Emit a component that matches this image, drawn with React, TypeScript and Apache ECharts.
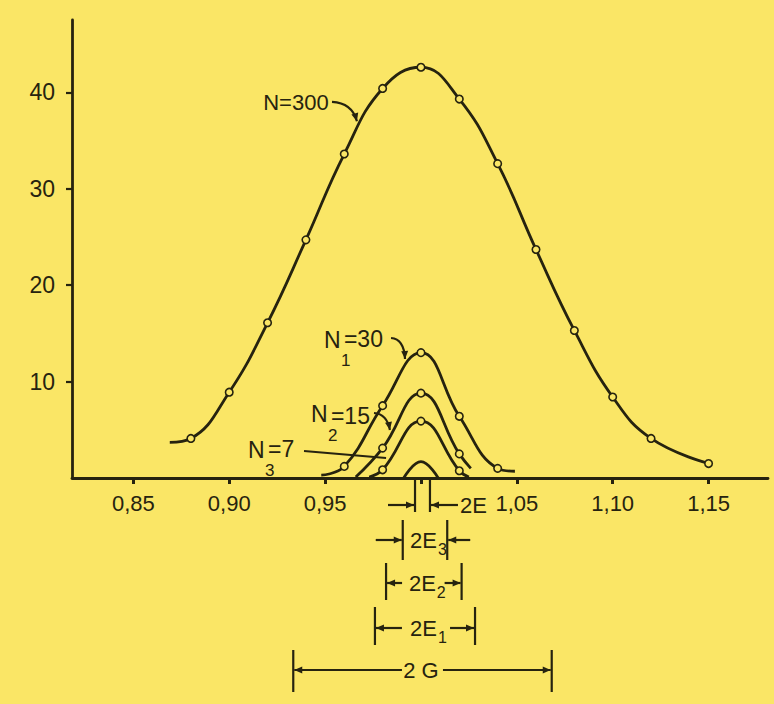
import React, { useEffect, useRef } from "react";
import * as echarts from "echarts";

// ---- axes ----
const X_MIN = 0.818;
const X_MAX = 1.181;
const Y_MAX = 47.5;
const X_TICKS = [0.85, 0.9, 0.95, 1.0, 1.05, 1.1, 1.15];
const X_LABELS = [0.85, 0.9, 0.95, 1.05, 1.1, 1.15];
const Y_TICKS = [10, 20, 30, 40];

// ---- curves (x, frequency, 1 = measured point drawn as circle) ----
const N300_X = [0.869, 0.88, 0.9, 0.92, 0.94, 0.96, 0.98, 1.0, 1.02, 1.04, 1.06, 1.08, 1.1, 1.12, 1.15];
const N300_Y = [3.7, 4.1, 8.9, 16.1, 24.7, 33.6, 40.4, 42.6, 39.3, 32.6, 23.7, 15.3, 8.4, 4.1, 1.5];
const N300_PT = [0, 1, 1, 1, 1, 1, 1, 1, 1, 1, 1, 1, 1, 1, 1];

const N1_X = [0.948, 0.96, 0.98, 1.0, 1.02, 1.04, 1.049];
const N1_Y = [0.3, 1.2, 7.5, 13.0, 6.4, 1.0, 0.7];
const N1_PT = [0, 1, 1, 1, 1, 1, 0];

const N2_X = [0.966, 0.98, 1.0, 1.02, 1.026];
const N2_Y = [0.1, 3.1, 8.8, 2.5, 1.0];
const N2_PT = [0, 1, 1, 1, 0];

const N3_X = [0.973, 0.98, 1.0, 1.02, 1.025];
const N3_Y = [0.1, 0.85, 5.9, 0.75, 0.1];
const N3_PT = [0, 1, 1, 1, 0];

const N4_X = [0.991, 1.0, 1.009];
const N4_Y = [0, 1.7, 0];
const N4_PT = [0, 0, 0];

// ---- curve labels (data coordinates) ----
const LBL_N300 = [0.9348, 38.94];
const ARR_N300 = [[0.9536, 39.0], [0.964, 38.9], [0.9666, 37.0]];
const LBL_N1 = [0.9494, 14.31];
const ARR_N1 = [[0.9844, 14.52], [0.9912, 14.42], [0.9917, 12.34]];
const LBL_N2 = [0.9426, 6.64];
const ARR_N2 = [[0.9755, 6.74], [0.9823, 6.64], [0.9838, 4.98]];
const LBL_N3 = [0.9098, 2.9];
const LINE_N3 = [[0.939, 2.8], [0.9818, 2.07]];

// ---- interval brackets below the axis (x ranges) ----
const SPAN_E = [0.9969, 1.0047];
const SPAN_E3 = [0.9905, 1.0137];
const SPAN_E2 = [0.9818, 1.0212];
const SPAN_E1 = [0.976, 1.0282];
const SPAN_G = [0.9334, 1.0682];

const BG = "#FAE666";
const INK = "#26230f";
const FONT = "'Liberation Sans', Arial, sans-serif";

function toData(xs: number[], ys: number[], pts: number[]) {
  return xs.map((x, i) => ({
    value: [x, ys[i]],
    symbol: pts[i] ? "circle" : "none",
  }));
}

function curve(name: string, xs: number[], ys: number[], pts: number[]) {
  return {
    name,
    type: "line",
    smooth: 0.45,
    data: toData(xs, ys, pts),
    symbolSize: 7.5,
    lineStyle: { color: INK, width: 2.8 },
    itemStyle: { color: BG, borderColor: INK, borderWidth: 1.6 },
    z: 3,
  };
}

export default function App() {
  const ref = useRef<HTMLDivElement>(null);

  useEffect(() => {
    document.body.style.margin = "0";
    const el = ref.current!;
    const chart = echarts.init(el, null, { renderer: "svg" });

    const option: any = {
      animation: false,
      backgroundColor: BG,
      grid: { left: 72, right: 6, top: 20, bottom: 226, containLabel: false },
      xAxis: {
        type: "value",
        min: X_MIN,
        max: X_MAX,
        axisLine: { show: true, lineStyle: { color: INK, width: 2.8 } },
        axisTick: {
          show: true,
          customValues: X_TICKS,
          length: 6,
          lineStyle: { color: INK, width: 3 },
        },
        axisLabel: {
          show: true,
          customValues: X_LABELS,
          formatter: (v: number) => v.toFixed(2).replace(".", ","),
          color: INK,
          fontSize: 22,
          fontFamily: FONT,
          margin: 14,
        },
        splitLine: { show: false },
      },
      yAxis: {
        type: "value",
        min: 0,
        max: Y_MAX,
        axisLine: { show: true, lineStyle: { color: INK, width: 2.8 } },
        axisTick: {
          show: true,
          customValues: Y_TICKS,
          length: 6,
          lineStyle: { color: INK, width: 2.2 },
        },
        axisLabel: {
          show: true,
          customValues: Y_TICKS,
          color: INK,
          fontSize: 23,
          fontFamily: FONT,
          margin: 17,
        },
        splitLine: { show: false },
      },
      series: [
        curve("N=300", N300_X, N300_Y, N300_PT),
        curve("N1=30", N1_X, N1_Y, N1_PT),
        curve("N2=15", N2_X, N2_Y, N2_PT),
        curve("N3=7", N3_X, N3_Y, N3_PT),
        curve("N4", N4_X, N4_Y, N4_PT),
      ],
    };
    chart.setOption(option);

    const P = (p: number[]) => chart.convertToPixel({ gridIndex: 0 }, p) as number[];
    const y0 = P([1, 0])[1];
    const X = (v: number) => P([v, 0])[0];
    const g: any[] = [];

    const text = (t: string, x: number, y: number, size: number, align = "left") =>
      g.push({
        type: "text",
        x,
        y,
        z: 10,
        style: { text: t, fill: INK, fontSize: size, fontFamily: FONT, align, verticalAlign: "middle" },
      });
    const line = (x1: number, y1: number, x2: number, y2: number, w = 2) =>
      g.push({ type: "line", z: 10, shape: { x1, y1, x2, y2 }, style: { stroke: INK, lineWidth: w } });
    const head = (tx: number, ty: number, fx: number, fy: number, len = 8, w = 3.5) => {
      const dx = tx - fx;
      const dy = ty - fy;
      const d = Math.hypot(dx, dy) || 1;
      const ux = dx / d;
      const uy = dy / d;
      const bx = tx - ux * len;
      const by = ty - uy * len;
      g.push({
        type: "polygon",
        z: 10,
        shape: { points: [[tx, ty], [bx - uy * w, by + ux * w], [bx + uy * w, by - ux * w]] },
        style: { fill: INK },
      });
    };
    const arrow = (x1: number, y1: number, x2: number, y2: number) => {
      line(x1, y1, x2, y2, 2.2);
      head(x2, y2, x1, y1);
    };
    const curvedArrow = (pts: number[][]) => {
      const [a, c, b] = pts.map(P);
      g.push({
        type: "bezierCurve",
        z: 10,
        shape: { x1: a[0], y1: a[1], cpx1: c[0], cpy1: c[1], x2: b[0], y2: b[1] },
        style: { stroke: INK, lineWidth: 2.2, fill: "none" },
      });
      head(b[0], b[1], c[0], c[1], 8, 3.5);
    };

    // N=300
    const l300 = P(LBL_N300);
    text("N=300", l300[0], l300[1], 22, "center");
    curvedArrow(ARR_N300);

    // N1 = 30
    const l1 = P(LBL_N1);
    text("N", l1[0], l1[1], 23);
    text("1", l1[0] + 17, l1[1] + 20, 17);
    text("=30", l1[0] + 20, l1[1] - 1, 23);
    curvedArrow(ARR_N1);

    // N2 = 15
    const l2 = P(LBL_N2);
    text("N", l2[0], l2[1], 23);
    text("2", l2[0] + 17, l2[1] + 22, 17);
    text("=15", l2[0] + 20, l2[1] + 2, 23);
    curvedArrow(ARR_N2);

    // N3 = 7
    const l3 = P(LBL_N3);
    text("N", l3[0], l3[1], 23);
    text("3", l3[0] + 17, l3[1] + 20, 17);
    text("=7", l3[0] + 20, l3[1] - 1, 23);
    const a3 = P(LINE_N3[0]);
    const b3 = P(LINE_N3[1]);
    line(a3[0], a3[1], b3[0], b3[1], 2);

    // 2E bracket
    {
      const xl = X(SPAN_E[0]);
      const xr = X(SPAN_E[1]);
      line(xl, y0, xl, y0 + 34, 2.2);
      line(xr, y0, xr, y0 + 34, 2.2);
      arrow(xl - 27, y0 + 27, xl - 1, y0 + 27);
      arrow(xr + 28, y0 + 27, xr + 1, y0 + 27);
      text("2E", xr + 30, y0 + 27, 22);
    }
    const subLabel = (mid: number, y: number, sub: string) => {
      text("2E", mid + 12, y, 22, "right");
      if (sub) text(sub, mid + 13, y + 9, 16);
    };
    // 2E3 (arrows outside pointing in)
    {
      const xl = X(SPAN_E3[0]);
      const xr = X(SPAN_E3[1]);
      line(xl, y0 + 42, xl, y0 + 82, 2.2);
      line(xr, y0 + 42, xr, y0 + 82, 2.2);
      arrow(xl - 27, y0 + 62, xl - 1, y0 + 62);
      arrow(xr + 23, y0 + 62, xr + 1, y0 + 62);
      subLabel((xl + xr) / 2, y0 + 62, "3");
    }
    // 2E2
    {
      const xl = X(SPAN_E2[0]);
      const xr = X(SPAN_E2[1]);
      line(xl, y0 + 85, xl, y0 + 122, 2.2);
      line(xr, y0 + 85, xr, y0 + 122, 2.2);
      arrow(xl + 16, y0 + 105, xl + 1, y0 + 105);
      arrow(xr - 17, y0 + 105, xr - 1, y0 + 105);
      subLabel((xl + xr) / 2, y0 + 105, "2");
    }
    // 2E1
    {
      const xl = X(SPAN_E1[0]);
      const xr = X(SPAN_E1[1]);
      line(xl, y0 + 129, xl, y0 + 167, 2.2);
      line(xr, y0 + 129, xr, y0 + 167, 2.2);
      arrow(xl + 27, y0 + 150, xl + 1, y0 + 150);
      arrow(xr - 25, y0 + 150, xr - 1, y0 + 150);
      subLabel((xl + xr) / 2, y0 + 150, "1");
    }
    // 2G
    {
      const xl = X(SPAN_G[0]);
      const xr = X(SPAN_G[1]);
      const mid = X(1.0);
      line(xl, y0 + 172, xl, y0 + 214, 2.2);
      line(xr, y0 + 172, xr, y0 + 214, 2.2);
      arrow(mid - 19, y0 + 192, xl + 1, y0 + 192);
      arrow(mid + 22, y0 + 192, xr - 1, y0 + 192);
      text("2 G", mid, y0 + 192, 22, "center");
    }

    chart.setOption({ graphic: g });

    return () => chart.dispose();
  }, []);

  return <div ref={ref} style={{ width: 774, height: 704 }} />;
}
